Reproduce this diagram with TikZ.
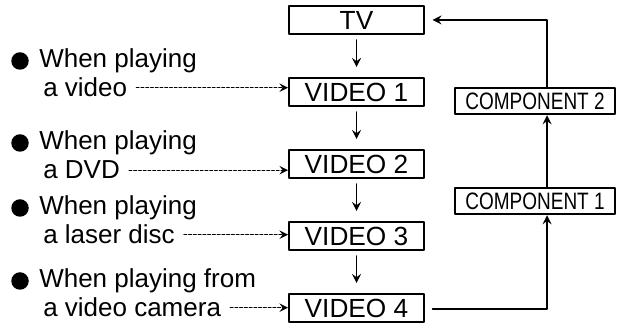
\documentclass[tikz,border=0pt]{standalone}
\usepackage{fontspec}
\setmainfont{Liberation Sans}

\begin{document}
\begin{tikzpicture}[>=stealth, x=0.4pt, y=-0.4pt, line cap=round, line join=round,
  box/.style={draw, line width=0.8pt, minimum width=54pt, minimum height=11.2pt,
    inner sep=0pt, font=\fontsize{10.5}{12}\selectfont},
  compbox/.style={draw, line width=0.8pt, minimum width=64pt, minimum height=10.6pt,
    inner sep=0pt, font=\fontsize{9.5}{11}\selectfont},
  txt/.style={anchor=base west, inner sep=3.5pt, font=\fontsize{10.4}{12}\selectfont},
  lead/.style={->, line width=0.5pt, dash pattern=on 1.1pt off 0.8pt},
  sig/.style={->, line width=0.6pt}]
  \useasboundingbox (0,0) rectangle (624,324);

  % Chain of inputs
  \node[box] (tv) at (356.5,20) {TV};
  \node[box] (v1) at (356.5,92) {VIDEO 1};
  \node[box] (v2) at (356.5,164) {VIDEO 2};
  \node[box] (v3) at (356.5,236) {VIDEO 3};
  \node[box] (v4) at (356.5,308) {VIDEO 4};

  \draw[sig, shorten <=2pt, shorten >=4pt] (tv) -- (v1);
  \draw[sig, shorten <=2pt, shorten >=4pt] (v1) -- (v2);
  \draw[sig, shorten <=2pt, shorten >=4pt] (v2) -- (v3);
  \draw[sig, shorten <=2pt, shorten >=4pt] (v3) -- (v4);

  % Component inputs
  \node[compbox] (c2) at (535,101) {\scalebox{0.8}[1]{COMPONENT 2}};
  \node[compbox] (c1) at (535,201) {\scalebox{0.8}[1]{COMPONENT 1}};
  \coordinate (trunk) at (547,309);

  \draw[sig, shorten <=3pt] (v4.east |- trunk) -- (trunk) -- (c1.south -| trunk);
  \draw[sig] (c1.north -| trunk) -- (c2.south -| trunk);
  \draw[sig, shorten >=3pt] (c2.north -| trunk) |- (tv.east);

  % Sources
  \foreach \y/\first/\second/\v in {
      68/When playing/a video/v1,
      150/When playing/a DVD/v2,
      215/When playing/a laser disc/v3,
      288/When playing from/a video camera/v4} {
    \fill (20,\y-7) circle[radius=3.5pt];
    \node[txt] (w\v) at (30,\y) {\first};
    \node[txt] (a\v) at (34,\y+29) {\second};
    \draw[lead] (a\v.east) -- (a\v.east -| \v.west);
  }
\end{tikzpicture}
\end{document}
